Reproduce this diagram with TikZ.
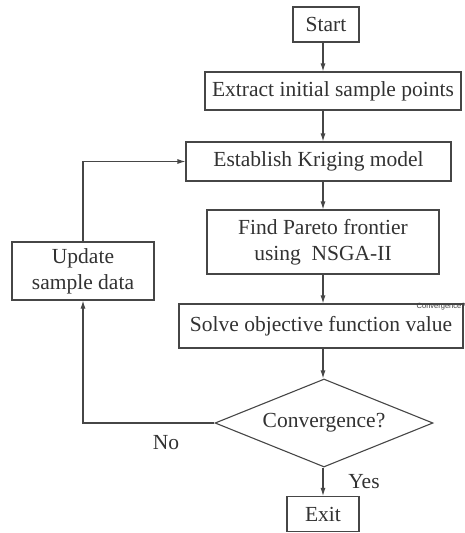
\documentclass[tikz,border=0pt]{standalone}
\usepackage{fontspec}
\setmainfont{Liberation Serif}
\setsansfont{Liberation Sans}
\usetikzlibrary{shapes.geometric,arrows.meta}
\begin{document}
\begin{tikzpicture}[x=1pt,y=-1pt,
  line width=1.1pt, draw={rgb,255:red,70;green,70;blue,70},
  box/.style={draw, rectangle, inner sep=0pt, font=\fontsize{21.5}{26}\selectfont, text={rgb,255:red,50;green,50;blue,50}, align=center},
  dia/.style={draw, diamond, inner sep=0pt, font=\fontsize{21.5}{26}\selectfont, text={rgb,255:red,50;green,50;blue,50}},
  lab/.style={font=\fontsize{21.5}{26}\selectfont, text={rgb,255:red,50;green,50;blue,50}},
  arr/.style={-{Latex[length=8pt,width=5pt]}}
]
\useasboundingbox (0,0) rectangle (464,533);
\coordinate (ax) at (323,0);
\node[box, minimum width=66pt, minimum height=35pt] (start) at (326,24.5) {Start};
\node[box, minimum width=256pt, minimum height=38pt] (extract) at (333,91) {Extract initial sample points};
\node[box, minimum width=265pt, minimum height=39pt] (krig) at (318.5,161.5) {Establish Kriging model};
\node[box, minimum width=232pt, minimum height=64pt] (pareto) at (323,242) {Find Pareto frontier\\ using\ \ NSGA-II};
\node[box, minimum width=142pt, minimum height=58pt] (upd) at (83,271) {Update\\sample data};
\node[box, minimum width=284pt, minimum height=44pt] (solve) at (321,326) {Solve objective function value};
\node[dia, minimum width=218pt, minimum height=88pt, aspect=2.48] (diam) at (324,423) {Convergence?};
\node[box, minimum width=72pt, minimum height=35pt] (exitt) at (323,514) {Exit};
\node[anchor=east, font=\sffamily\fontsize{7.5}{8}\selectfont, text={rgb,255:red,60;green,60;blue,60}, inner sep=0pt] (tiny) at (466,307) {Convergence?};
\node[lab] (no) at (166,443) {No};
\node[lab] (yes) at (364,482) {Yes};
\draw[arr] (start.south -| ax) -- (extract.north -| ax);
\draw[arr] (extract.south -| ax) -- (krig.north -| ax);
\draw[arr] (krig.south -| ax) -- (pareto.north -| ax);
\draw[arr] (pareto.south -| ax) -- (solve.north -| ax);
\draw[arr] (solve.south -| ax) -- (diam.north -| ax);
\draw[arr] (diam.south -| ax) -- (exitt.north -| ax);
\draw[arr] (diam.west) -| (upd.south);
\draw[arr] (upd.north) |- (krig.west);
\end{tikzpicture}
\end{document}
